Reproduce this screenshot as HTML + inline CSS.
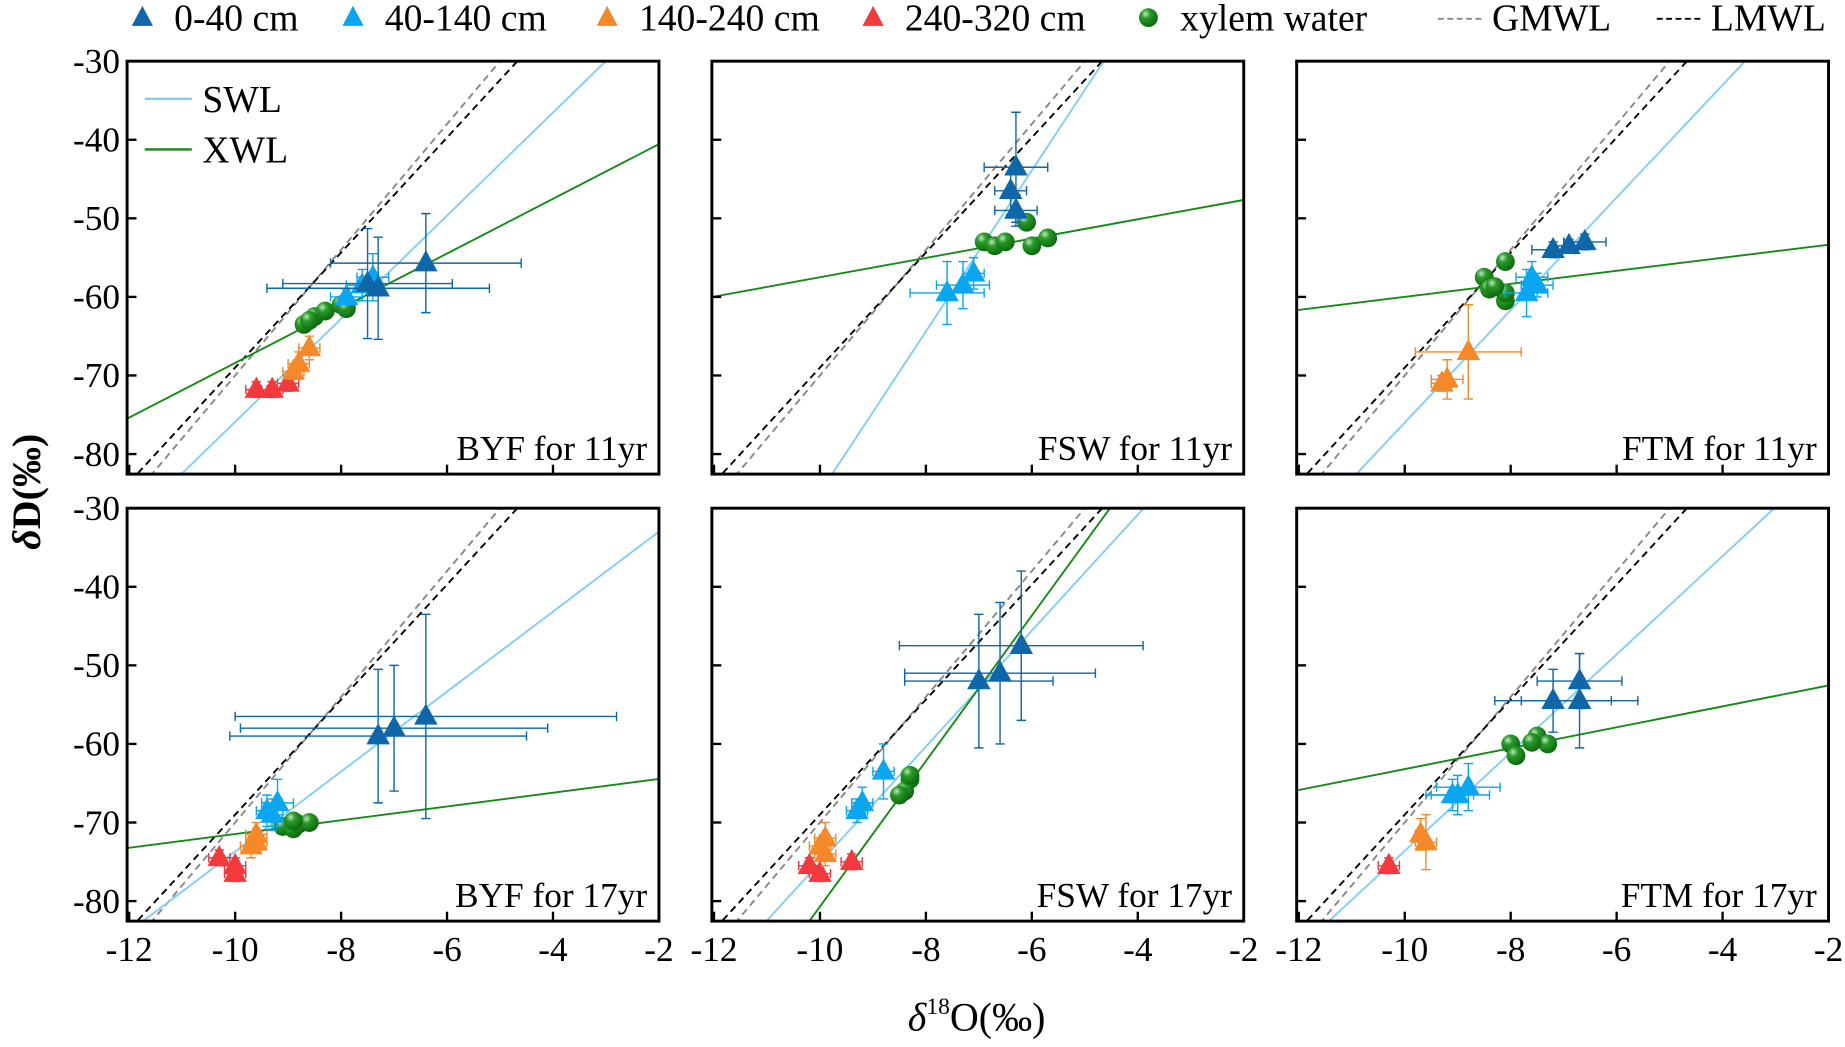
<!DOCTYPE html>
<html><head><meta charset="utf-8"><style>
html,body{margin:0;padding:0;background:#fff;width:1845px;height:1047px;overflow:hidden;}
svg{display:block;}
svg text{font-family:'Liberation Serif','DejaVu Serif',serif !important;}
</style></head><body>
<svg id="chart" width="1845" height="1047" viewBox="0 0 1568 890" preserveAspectRatio="none" xmlns="http://www.w3.org/2000/svg">
<g id="legend"></g>
<g id="panels"></g>
<text x="830" y="876" font-size="34" text-anchor="middle" font-family="'Liberation Serif', serif"><tspan font-style="italic">δ</tspan><tspan font-size="20" dy="-14">18</tspan><tspan dy="14">O(‰)</tspan></text>
<text transform="translate(34,418) rotate(-90)" font-size="34" font-weight="bold" text-anchor="middle" font-family="'Liberation Serif', serif"><tspan font-style="italic">δ</tspan>D(‰)</text>
</svg>
<script>
const panelNames = ["BYF for 11yr","FSW for 11yr","FTM for 11yr","BYF for 17yr","FSW for 17yr","FTM for 17yr"];
const xTicks = [-12,-10,-8,-6,-4,-2];
const yTicks = [-30,-40,-50,-60,-70,-80];
const gmwl = [8, 10];
const lmwl = [7.32, 4.2];
const swlSlope = [6.56, 10.25, 7.16, 5.09, 7.38, 6.25];
const swlIntercept = [-10.3, 17.6, -4.4, -22.8, -1.3, -11.1];
const xwlSlope = [3.48, 1.23, 0.83, 0.876, 9.26, 1.33];
const xwlIntercept = [-33.6, -45.2, -51.7, -62.7, 11.9, -49.9];
// points: [x, y, xerr, yerr]
const d0_40 = [
 [[-6.4,-55.7,1.8,6.3],[-7.3,-58.9,2.1,6.5],[-7.5,-58.3,1.6,7]],
 [[-6.3,-43.5,0.6,7],[-6.4,-46.5,0.3,3],[-6.3,-49,0.4,2]],
 [[-7.2,-54,0.4,1],[-6.9,-53.5,0.3,0.8],[-6.6,-53,0.4,1]],
 [[-6.4,-56.5,3.6,13],[-7.0,-58,2.9,8],[-7.3,-59,2.8,8.5]],
 [[-6.2,-47.5,2.3,9.5],[-6.6,-51,1.8,9],[-7.0,-52,1.4,8.5]],
 [[-6.7,-52,0.8,3.5],[-6.7,-54.5,1.1,6],[-7.2,-54.5,1.1,4]]];
const d40_140 = [
 [[-7.4,-57.5,0.3,3],[-7.9,-60,0.3,1],[-7.6,-58.5,0.3,2]],
 [[-7.6,-59.5,0.7,4],[-7.3,-58.5,0.5,3],[-7.1,-57,0.2,2]],
 [[-7.6,-57.5,0.3,2],[-7.7,-59.5,0.4,3],[-7.5,-58.5,0.3,1.5]],
 [[-9.2,-67.5,0.3,3],[-9.4,-68.5,0.2,2],[-9.3,-69,0.2,2]],
 [[-8.8,-63.5,0.2,3.5],[-9.2,-67.5,0.2,2],[-9.3,-68.5,0.2,1.5]],
 [[-8.8,-65.5,0.6,3],[-9.0,-66.5,0.6,2.5],[-9.1,-66.5,0.4,2]]];
const d140_240 = [
 [[-8.6,-66.5,0.2,1.5],[-8.8,-68.5,0.2,1.5],[-8.9,-69.5,0.2,1]],
 [],
 [[-8.8,-67,1.0,6],[-9.2,-70.5,0.3,2.5],[-9.3,-71,0.2,1]],
 [[-9.6,-71.5,0.2,1.5],[-9.7,-73,0.2,1.5],[-9.6,-72.5,0.2,1]],
 [[-9.9,-72,0.2,2],[-9.9,-74,0.2,1.5],[-10.0,-73,0.2,1]],
 [[-9.7,-71.5,0.1,2],[-9.6,-72.5,0.2,3.5]]];
const d240_320 = [
 [[-9.6,-71.8,0.2,1],[-9.3,-71.8,0.2,1],[-9.0,-71,0.2,1]],
 [],
 [],
 [[-10.3,-74.5,0.2,1],[-10.0,-75.5,0.2,1],[-10.0,-76.5,0.2,1]],
 [[-10.2,-75.5,0.2,1],[-10.0,-76.5,0.2,1],[-9.4,-75,0.2,1]],
 [[-10.3,-75.5,0.2,1]]];
const xylem = [
 [[-8.7,-63.5],[-8.5,-62.5],[-8.3,-61.8],[-8.0,-61],[-7.9,-61.5],[-8.6,-63]],
 [[-6.9,-53],[-6.7,-53.5],[-6.5,-53],[-6.1,-50.5],[-6.0,-53.5],[-5.7,-52.5]],
 [[-8.1,-55.5],[-8.5,-57.5],[-8.4,-59],[-8.1,-60.5],[-8.1,-59.5],[-8.3,-58.7]],
 [[-9.1,-70.5],[-8.9,-70.8],[-8.8,-70.2],[-8.6,-70],[-8.9,-69.8]],
 [[-8.3,-64.5],[-8.4,-66],[-8.5,-66.5],[-8.3,-64]],
 [[-8.0,-60],[-7.9,-61.5],[-7.5,-59],[-7.3,-60],[-7.6,-59.8]]];

const NS="http://www.w3.org/2000/svg";
function mk(tag, attrs, parent){const e=document.createElementNS(NS,tag);for(const k in attrs)e.setAttribute(k,attrs[k]);if(tag==='text')e.setAttribute('font-family',"'Liberation Serif', serif");if(parent)parent.appendChild(e);return e;}
const colX=[108,605,1102], rowY=[52,432], PW=452, PH=351;
const XMIN=-12.04, XMAX=-2, YMAX=-30, YMIN=-82.55;
const C={d:"#0f66a8",l:"#0aa6f2",o:"#f5892a",r:"#f2393d",g:"#178a17",swl:"#82cdf5",xwl:"#158a15"};
const panels=document.getElementById('panels');
const defs=mk('defs',{},document.getElementById('chart'));
const rg=mk('radialGradient',{id:'ball',cx:'0.35',cy:'0.3',r:'0.7'},defs);
mk('stop',{offset:'0','stop-color':'#bfe8bf'},rg);mk('stop',{offset:'0.35','stop-color':'#2a9a2a'},rg);mk('stop',{offset:'1','stop-color':'#0d6a0d'},rg);

for(let p=0;p<6;p++){
 const ox=colX[p%3], oy=rowY[Math.floor(p/3)];
 const sx=v=>ox+(v-XMIN)/(XMAX-XMIN)*PW;
 const sy=v=>oy+(YMAX-v)/(YMAX-YMIN)*PH;
 const g=mk('g',{},panels);
 
 
 const cid='clip'+p;
 const cp=mk('clipPath',{id:cid},defs);mk('rect',{x:ox,y:oy,width:PW,height:PH},cp);
 const inner=mk('g',{'clip-path':'url(#'+cid+')'},g);
 function line(s,b,attrs,name){
  const x1=XMIN-1,x2=XMAX+1;
  const l=mk('line',Object.assign({x1:sx(x1),y1:sy(s*x1+b),x2:sx(x2),y2:sy(s*x2+b)},attrs),inner);
  
  
 }
 line(gmwl[0],gmwl[1],{stroke:'#888','stroke-width':1.6,'stroke-dasharray':'6 4'},'gmwl-line');
 line(lmwl[0],lmwl[1],{stroke:'#000','stroke-width':1.6,'stroke-dasharray':'6 4'},'lmwl-line');
 line(swlSlope[p],swlIntercept[p],{stroke:C.swl,'stroke-width':1.6},'swl-line');
 line(xwlSlope[p],xwlIntercept[p],{stroke:C.xwl,'stroke-width':1.6},'xwl-line');
 function tri(set,col,name){
  set[p].forEach(pt=>{
   const x=sx(pt[0]),y=sy(pt[1]),xl=sx(pt[0]-pt[2]),xr=sx(pt[0]+pt[2]),yt=sy(pt[1]+pt[3]),yb=sy(pt[1]-pt[3]);
   const e=mk('path',{d:`M${xl},${y}H${xr}M${xl},${y-4}V${y+4}M${xr},${y-4}V${y+4}M${x},${yt}V${yb}M${x-4},${yt}H${x+4}M${x-4},${yb}H${x+4}`,stroke:col,'stroke-width':1.2,fill:'none'},inner);
   
   
   const t=mk('path',{d:`M${x},${y-11}L${x+10},${y+7}L${x-10},${y+7}Z`,fill:col},inner);
   
   
  });
 }
 tri(d240_320,C.r,'depth-240-320');
 tri(d140_240,C.o,'depth-140-240');
 xylem[p].forEach(pt=>{
  const c=mk('circle',{cx:sx(pt[0]),cy:sy(pt[1]),r:8,fill:'url(#ball)'},inner);
  
  
 });
 tri(d40_140,C.l,'depth-40-140');
 tri(d0_40,C.d,'depth-0-40');
 xTicks.forEach(v=>{mk('line',{x1:sx(v),x2:sx(v),y1:oy+PH,y2:oy+PH-8,stroke:'#000','stroke-width':2},g);});
 yTicks.forEach(v=>{mk('line',{x1:ox,x2:ox+8,y1:sy(v),y2:sy(v),stroke:'#000','stroke-width':2},g);});
 const fr=mk('rect',{x:ox,y:oy,width:PW,height:PH,fill:'none',stroke:'#000','stroke-width':2.5},g);
 
 
 const lab=mk('text',{x:ox+PW-10,y:oy+PH-12,'font-size':30,'text-anchor':'end'},g);
 lab.textContent=panelNames[p];
 
 
 if(p%3===0){yTicks.forEach(v=>{const t=mk('text',{x:ox-6,y:sy(v)+10,'font-size':30,'text-anchor':'end'},g);t.textContent=v;});}
 if(p>=3){xTicks.forEach(v=>{const t=mk('text',{x:sx(v),y:oy+PH+34,'font-size':30,'text-anchor':'middle'},g);t.textContent=v;});}
 if(p===0){
  [[84,C.swl,'SWL'],[127,C.xwl,'XWL']].forEach(it=>{
   const l=mk('line',{x1:123,x2:163,y1:it[0],y2:it[0],stroke:it[1],'stroke-width':2},g);
   
   const t=mk('text',{x:172,y:it[0]+11,'font-size':32},g);t.textContent=it[2];
   
  });
 }
}
const lg=document.getElementById('legend');
[[121,C.d,'0-40 cm'],[300,C.l,'40-140 cm'],[516,C.o,'140-240 cm'],[742,C.r,'240-320 cm']].forEach(it=>{
 const t=mk('path',{d:`M${it[0]},5L${it[0]+9},22L${it[0]-9},22Z`,fill:it[1]},lg);
 
 const tx=mk('text',{x:it[0]+27,y:26,'font-size':32},lg);tx.textContent=it[2];
 
});
const lc=mk('circle',{cx:976,cy:15,r:8,fill:'url(#ball)'},lg);

const lt=mk('text',{x:1003,y:26,'font-size':32},lg);lt.textContent='xylem water';

[[1222,'#888','GMWL'],[1408,'#000','LMWL']].forEach(it=>{
 const l=mk('line',{x1:it[0],x2:it[0]+40,y1:16,y2:16,stroke:it[1],'stroke-width':1.6,'stroke-dasharray':'5 3'},lg);
 
 const t=mk('text',{x:it[0]+46,y:26,'font-size':32},lg);t.textContent=it[2];
 
});
</script>
</body></html>
